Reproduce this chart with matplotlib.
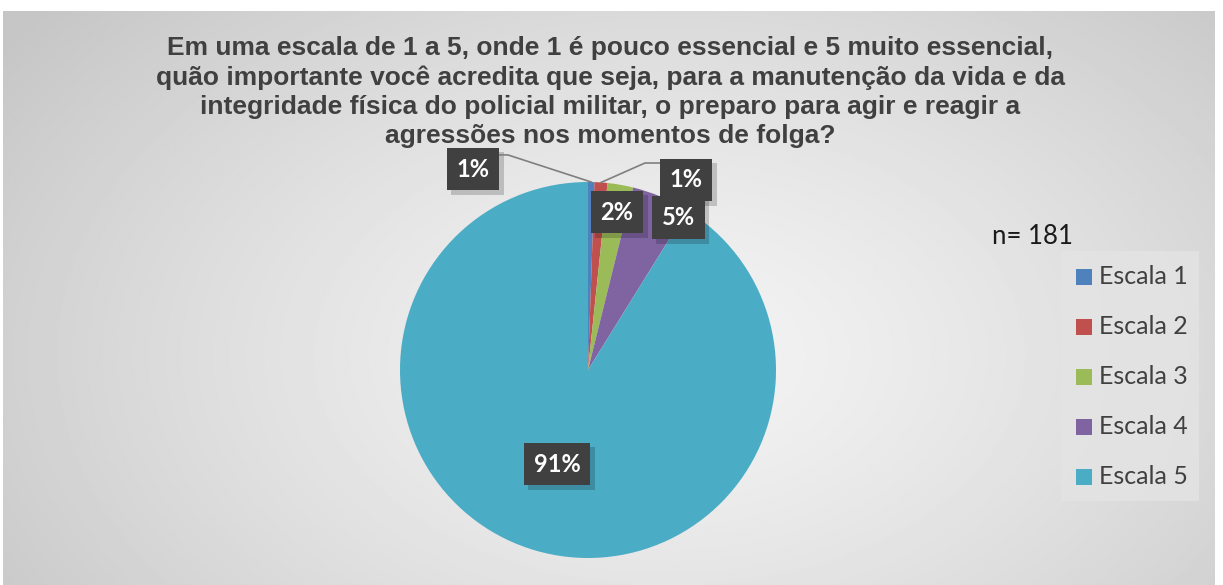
import numpy as np
import matplotlib.pyplot as plt
from matplotlib.patches import Rectangle

labels = ['Escala 1', 'Escala 2', 'Escala 3', 'Escala 4', 'Escala 5']
counts = [1, 2, 4, 9, 165]
pct_text = ['1%', '1%', '2%', '5%', '91%']
colors = ['#4f81bd', '#c0504d', '#9bbb59', '#8064a2', '#4bacc6']
title = ('Em uma escala de 1 a 5, onde 1 é pouco essencial e 5 muito essencial,\n'
         'quão importante você acredita que seja, para a manutenção da vida e da\n'
         'integridade física do policial militar, o preparo para agir e reagir a\n'
         'agressões nos momentos de folga?')

W, H = 1223, 585
fig = plt.figure(figsize=(W / 100, H / 100), dpi=100)
fig.patch.set_facecolor('white')

# gradient background of chart area
bg = fig.add_axes([3 / W, 0, 1212 / W, (H - 11) / H])
yy, xx = np.mgrid[0:1:300j, 0:1:600j]
d = np.sqrt(((xx - 0.55) / 0.62) ** 2 + ((yy - 0.6) / 0.85) ** 2)
d = np.clip(d, 0, 1.1)
shade = 0.955 - 0.16 * d ** 1.3
bg.imshow(shade, cmap='gray', vmin=0, vmax=1, aspect='auto', extent=[0, 1, 0, 1])
bg.set_axis_off()

# pie
cx, cy, r = 588, 370, 188
ax = fig.add_axes([(cx - r) / W, (H - cy - r) / H, 2 * r / W, 2 * r / H])
wedges, _ = ax.pie(counts, colors=colors, startangle=90, counterclock=False,
                   radius=1, wedgeprops=dict(linewidth=0))
ax.set_xlim(-1, 1)
ax.set_ylim(-1, 1)
ax.set_aspect('auto')
ax.set_axis_off()

box = dict(boxstyle='square,pad=0.42', fc='#404040', ec='none')
lab_font = dict(family='Lato', weight='bold', size=17, color='white',
                ha='center', va='center')

# label positions (pie data coords)
lab_pos = [(-0.612, 1.069), (0.521, 1.011), (0.154, 0.84), (0.479, 0.81), (-0.165, -0.5)]
elbow = [(-0.426, 1.144, -0.47), (0.303, 1.101, 0.38)]

for i, w in enumerate(wedges):
    x, y = lab_pos[i]
    # shadow
    ax.text(x + 0.025, y - 0.025, pct_text[i], alpha=0,
            bbox=dict(boxstyle='square,pad=0.42', fc='#000000', ec='none', alpha=0.18),
            **{k: v for k, v in lab_font.items() if k != 'color'}, clip_on=False)
    ax.text(x, y, pct_text[i], bbox=box, clip_on=False, zorder=5, **lab_font)

for i in range(2):
    w = wedges[i]
    ang = np.deg2rad((w.theta1 + w.theta2) / 2)
    ex, ey, hx = elbow[i]
    ax.plot([np.cos(ang), ex, hx], [np.sin(ang), ey, ey], color='#7f7f7f',
            lw=1.2, clip_on=False, zorder=4)

fig.text(610 / W, 1 - 92 / H, title, ha='center', va='center', family='Liberation Sans',
         weight='bold', size=19, color='#404040', linespacing=1.27)

fig.text(1032 / W, 1 - 236 / H, 'n= 181', ha='center', va='center', family='Lato',
         size=18.5, color='#1a1a1a')

# legend
lx0, ly0, lw, lh = 1061, 251, 138, 250
fig.patches.append(Rectangle((lx0 / W, 1 - (ly0 + lh) / H), lw / W, lh / H,
                             transform=fig.transFigure, fc='#e4e4e4', ec='none', alpha=0.8))
for i, lab in enumerate(labels):
    yc = 277 + 50 * i
    fig.patches.append(Rectangle((1076 / W, 1 - (yc + 8) / H), 16 / W, 16 / H,
                                 transform=fig.transFigure, fc=colors[i], ec='none'))
    fig.text(1099 / W, 1 - yc / H, lab, ha='left', va='center', family='Lato',
             size=18, color='#404040')

fig.savefig('out.png', dpi=100)
